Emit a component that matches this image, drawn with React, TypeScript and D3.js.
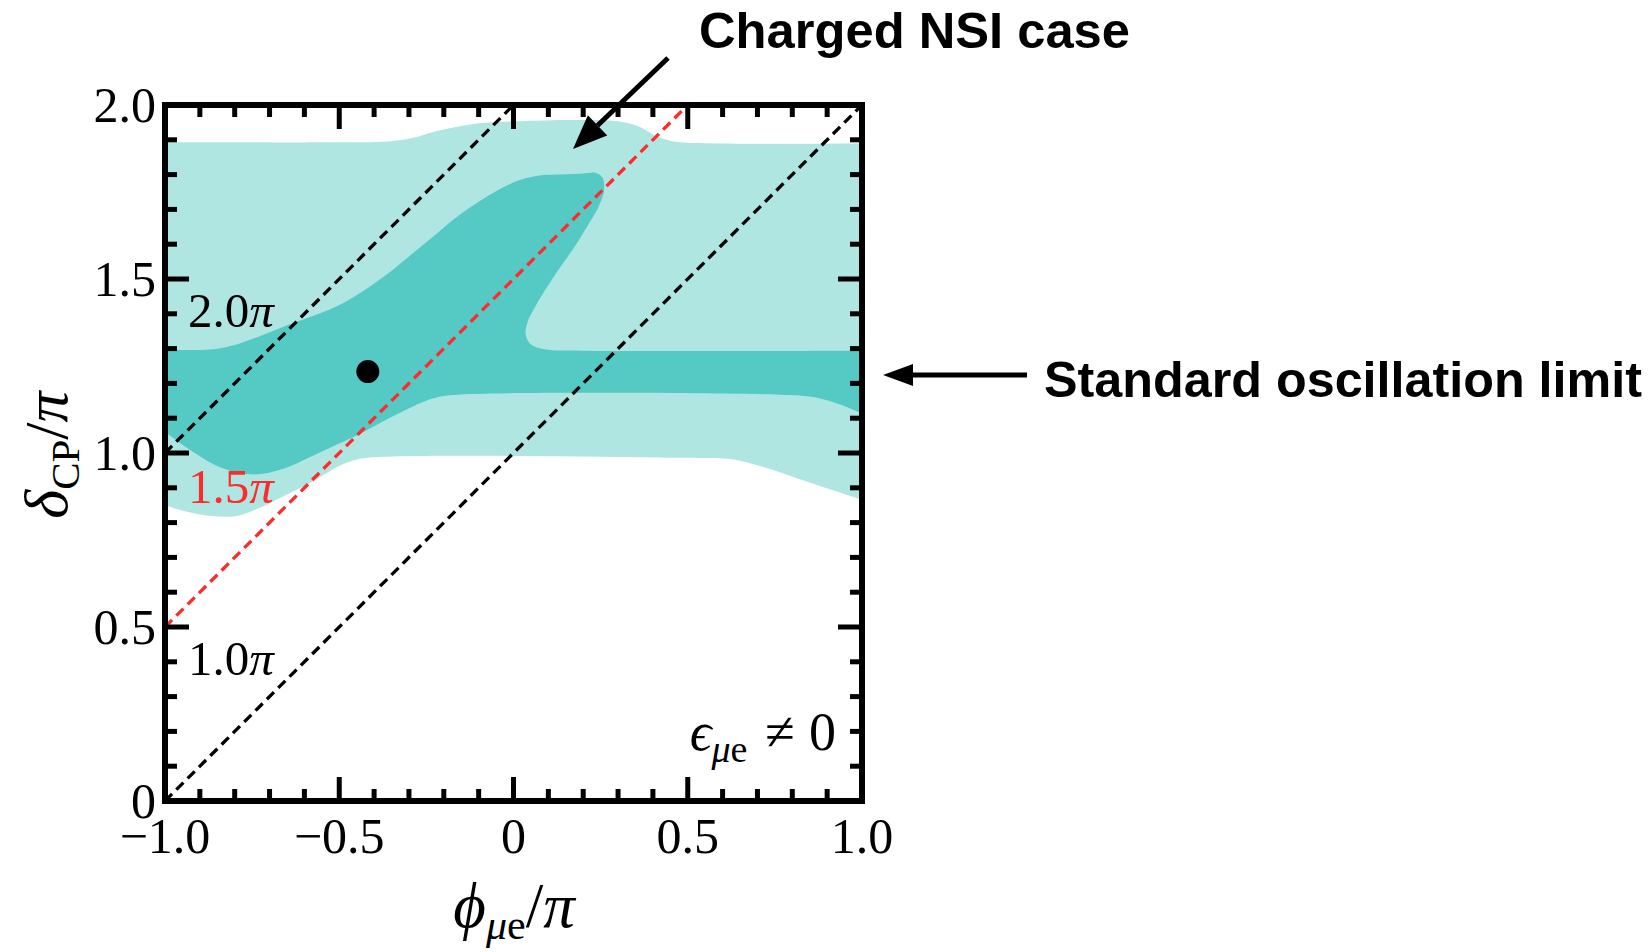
import React from 'react';
import * as d3 from 'd3';

const W = 1648;
const H = 952;
const frame = { left: 165, right: 862, top: 105, bottom: 801 };

const xTicks = [-1, -0.5, 0, 0.5, 1];
const xTickLabels = ['\u22121.0', '\u22120.5', '0', '0.5', '1.0'];
const yTicks = [0, 0.5, 1, 1.5, 2];
const yTickLabels = ['0', '0.5', '1.0', '1.5', '2.0'];

// outer (light) allowed region, [phi/pi, delta/pi]; points outside the box get clipped
const lightRegion: [number, number][] = [
  [-1.3, 1.893], [-1.1, 1.893], [-0.5, 1.893], [-0.36, 1.895], [-0.29, 1.905], [-0.22, 1.925],
  [-0.12, 1.945], [0, 1.953], [0.2, 1.957], [0.3, 1.953], [0.36, 1.938], [0.41, 1.91],
  [0.46, 1.895], [0.55, 1.89], [1.1, 1.89], [1.3, 1.89],
  [1.3, 0.8], [1.1, 0.83], [1.0, 0.865], [0.85, 0.915], [0.7, 0.965], [0.62, 0.983],
  [0.5, 0.986], [-0.42, 0.986], [-0.47, 0.975], [-0.506, 0.96], [-0.584, 0.914],
  [-0.66, 0.876], [-0.73, 0.842], [-0.79, 0.82], [-0.86, 0.818], [-0.94, 0.832],
  [-1.0, 0.85], [-1.1, 0.88], [-1.3, 0.88],
];

// inner (dark) region
const darkRegion: [number, number][] = [
  [-1.3, 1.296], [-1.1, 1.296], [-0.95, 1.296], [-0.86, 1.298], [-0.8, 1.31], [-0.73, 1.335],
  [-0.66, 1.363], [-0.58, 1.392], [-0.51, 1.42], [-0.44, 1.46], [-0.36, 1.516], [-0.29, 1.573],
  [-0.22, 1.631], [-0.16, 1.68], [-0.1, 1.722], [-0.04, 1.758], [0.02, 1.785], [0.08, 1.798],
  [0.14, 1.8], [0.2, 1.803], [0.235, 1.805], [0.255, 1.792], [0.26, 1.756], [0.245, 1.71],
  [0.223, 1.67], [0.18, 1.6], [0.135, 1.535], [0.095, 1.475], [0.062, 1.42], [0.04, 1.375],
  [0.035, 1.34], [0.05, 1.312], [0.09, 1.298], [0.2, 1.294], [1.1, 1.294], [1.3, 1.294],
  [1.3, 1.05], [1.1, 1.09], [1.0, 1.115], [0.92, 1.145], [0.85, 1.162], [0.78, 1.167],
  [-0.17, 1.167], [-0.23, 1.157], [-0.333, 1.112], [-0.45, 1.05], [-0.52, 1.018],
  [-0.58, 0.99], [-0.66, 0.955], [-0.75, 0.938], [-0.84, 0.958], [-0.93, 1.01],
  [-1.0, 1.06], [-1.1, 1.13], [-1.3, 1.13],
];

const bestFit: [number, number] = [-0.418, 1.234];

// lines delta = phi + offset
const phaseOffsets = [1.0, 1.5, 2.0];
const phaseLabels = ['1.0', '1.5', '2.0'];
const phaseColors = ['#000000', '#ff2a2a', '#000000'];
const phaseLabelAt: [number, number][] = [[-0.934, 0.362], [-0.934, 0.856], [-0.934, 1.362]];

const nsiArrow = { x1: 668, y1: 58, x2: 573, y2: 149 };
const stdArrow = { x1: 1027, y1: 375, x2: 883, y2: 375 };

function arrowHead(x1: number, y1: number, x2: number, y2: number, len: number, half: number) {
  const a = Math.atan2(y2 - y1, x2 - x1);
  const bx = x2 - len * Math.cos(a);
  const by = y2 - len * Math.sin(a);
  const px = -Math.sin(a) * half;
  const py = Math.cos(a) * half;
  return { d: `M${x2},${y2}L${bx + px},${by + py}L${bx - px},${by - py}Z`, bx, by };
}

const serif = '"Liberation Serif", "DejaVu Serif", serif';
const sans = '"Liberation Sans", Arial, sans-serif';

export default function App() {
  const x = d3.scaleLinear().domain([-1, 1]).range([frame.left, frame.right]);
  const y = d3.scaleLinear().domain([0, 2]).range([frame.bottom, frame.top]);
  const region = d3
    .line<[number, number]>()
    .x((d) => x(d[0]))
    .y((d) => y(d[1]))
    .curve(d3.curveCatmullRomClosed.alpha(0.5));

  const minorX = x.ticks(20);
  const minorY = y.ticks(20);
  const isMajor = (v: number) => Math.abs(v * 2 - Math.round(v * 2)) < 1e-6;
  const major = 24;
  const minor = 12;

  const a1 = arrowHead(nsiArrow.x1, nsiArrow.y1, nsiArrow.x2, nsiArrow.y2, 34, 14);
  const a2 = arrowHead(stdArrow.x1, stdArrow.y1, stdArrow.x2, stdArrow.y2, 30, 11);

  return (
    <svg width={W} height={H} style={{ position: 'absolute', left: 0, top: 0, background: '#fff' }}>
      <defs>
        <clipPath id="plotClip">
          <rect x={frame.left} y={frame.top} width={frame.right - frame.left} height={frame.bottom - frame.top} />
        </clipPath>
      </defs>

      <g clipPath="url(#plotClip)">
        <path d={region(lightRegion) || ''} fill="#b0e6e2" />
        <path d={region(darkRegion) || ''} fill="#55c9c3" />
        {phaseOffsets.map((c, i) => (
          <line
            key={c}
            x1={x(-1)}
            y1={y(-1 + c)}
            x2={x(Math.min(1, 2 - c))}
            y2={y(Math.min(1, 2 - c) + c)}
            stroke={phaseColors[i]}
            strokeWidth={3.3}
            strokeDasharray="10 6"
          />
        ))}
      </g>

      {phaseLabels.map((t, i) => (
        <text
          key={t}
          x={x(phaseLabelAt[i][0])}
          y={y(phaseLabelAt[i][1])}
          fontFamily={serif}
          fontSize={49}
          fill={phaseColors[i]}
        >
          {t}
          <tspan fontStyle="italic">π</tspan>
        </text>
      ))}

      <circle cx={x(bestFit[0])} cy={y(bestFit[1])} r={11.5} fill="#000" />

      <text x={836} y={750} textAnchor="end" fontFamily={serif} fontSize={54} fill="#000">
        <tspan fontStyle="italic">ϵ</tspan>
        <tspan fontSize={38} dy={12} fontStyle="italic">μ</tspan>
        <tspan fontSize={38}>e</tspan>
        <tspan dy={-12} dx={18}>≠</tspan>
        <tspan dx={14}>0</tspan>
      </text>

      {/* frame */}
      <rect
        x={frame.left}
        y={frame.top}
        width={frame.right - frame.left}
        height={frame.bottom - frame.top}
        fill="none"
        stroke="#000"
        strokeWidth={6}
      />

      {/* ticks on all sides, pointing inward */}
      <g stroke="#000" strokeWidth={5}>
        {minorX.map((v) => {
          const len = isMajor(v) ? major : minor;
          return (
            <g key={'x' + v}>
              <line x1={x(v)} x2={x(v)} y1={frame.bottom} y2={frame.bottom - len} />
              <line x1={x(v)} x2={x(v)} y1={frame.top} y2={frame.top + len} />
            </g>
          );
        })}
        {minorY.map((v) => {
          const len = isMajor(v) ? major : minor;
          return (
            <g key={'y' + v}>
              <line x1={frame.left} x2={frame.left + len} y1={y(v)} y2={y(v)} />
              <line x1={frame.right} x2={frame.right - len} y1={y(v)} y2={y(v)} />
            </g>
          );
        })}
      </g>

      {/* tick labels */}
      {xTicks.map((v, i) => (
        <text key={'xl' + v} x={x(v)} y={853} textAnchor="middle" fontFamily={serif} fontSize={50} fill="#000">
          {xTickLabels[i]}
        </text>
      ))}
      {yTicks.map((v, i) => (
        <text
          key={'yl' + v}
          x={frame.left - 9}
          y={y(v)}
          dy="0.33em"
          textAnchor="end"
          fontFamily={serif}
          fontSize={50}
          fill="#000"
        >
          {yTickLabels[i]}
        </text>
      ))}

      {/* axis titles */}
      <text x={514} y={927} textAnchor="middle" fontFamily={serif} fontSize={63} fill="#000">
        <tspan fontStyle="italic">ϕ</tspan>
        <tspan fontSize={42} dy={12} fontStyle="italic">μ</tspan>
        <tspan fontSize={42}>e</tspan>
        <tspan dy={-12}>/</tspan>
        <tspan fontStyle="italic">π</tspan>
      </text>
      <text
        transform="translate(67,455) rotate(-90)"
        textAnchor="middle"
        fontFamily={serif}
        fontSize={62}
        fill="#000"
      >
        <tspan fontStyle="italic">δ</tspan>
        <tspan fontSize={41} dy={12}>CP</tspan>
        <tspan dy={-12}>/</tspan>
        <tspan fontStyle="italic">π</tspan>
      </text>

      {/* annotations */}
      <line x1={nsiArrow.x1} y1={nsiArrow.y1} x2={a1.bx} y2={a1.by} stroke="#000" strokeWidth={5} />
      <path d={a1.d} fill="#000" />
      <text x={699} y={48} fontFamily={sans} fontWeight="bold" fontSize={50} textLength={431} lengthAdjust="spacingAndGlyphs" fill="#000">
        Charged NSI case
      </text>

      <line x1={stdArrow.x1} y1={stdArrow.y1} x2={a2.bx} y2={a2.by} stroke="#000" strokeWidth={5} />
      <path d={a2.d} fill="#000" />
      <text x={1044} y={397} fontFamily={sans} fontWeight="bold" fontSize={50} textLength={598} lengthAdjust="spacingAndGlyphs" fill="#000">
        Standard oscillation limit
      </text>
    </svg>
  );
}
